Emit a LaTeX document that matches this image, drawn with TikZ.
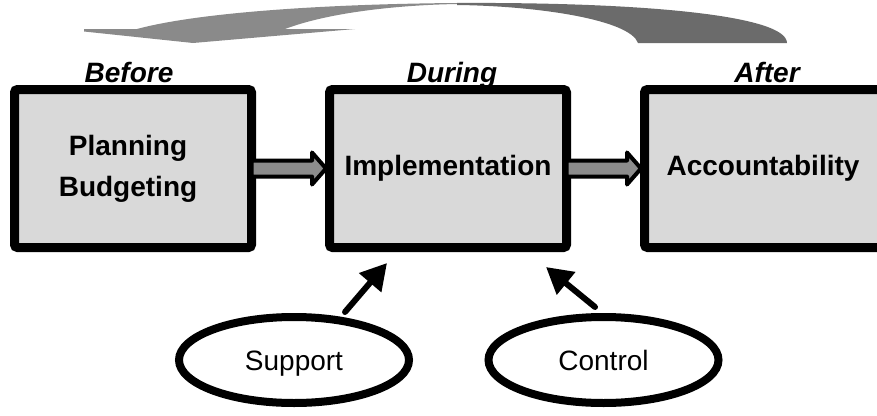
\documentclass[tikz,border=0pt]{standalone}
\usepackage{fontspec}
\setmainfont{Liberation Sans}
\usetikzlibrary{shapes.geometric,arrows.meta,calc}

\definecolor{boxfill}{gray}{0.85}
\definecolor{shaftfill}{RGB}{140,140,140}
\definecolor{ribbonlight}{RGB}{138,138,138}
\definecolor{ribbondark}{RGB}{107,107,107}

\tikzset{
  stagebox/.style={draw=black, line width=9pt, fill=boxfill, rounded corners=3pt,
    minimum width=237pt, minimum height=158pt, inner sep=0pt, outer sep=0pt,
    align=center, font=\fontsize{28}{41}\selectfont\bfseries},
  phase/.style={font=\fontsize{28}{34}\selectfont\bfseries\itshape, inner sep=0pt},
  roleoval/.style={ellipse, draw=black, line width=8pt, fill=white,
    minimum width=230pt, minimum height=86pt, inner sep=0pt, outer sep=0pt,
    text height=21pt, text depth=0pt,
    font=\fontsize{28}{34}\selectfont},
  blockarrow/.style={draw=black, fill=shaftfill, line width=4pt, line join=round},
  pusharrow/.style={draw=black, line width=6pt, line cap=round,
    -{Triangle[length=26pt,width=28pt]}}
}

\begin{document}
\begin{tikzpicture}[x=1pt, y=-1pt]
  \useasboundingbox (0,0) rectangle (877,415);

  % curved return ribbon over the three stages
  \fill[ribbonlight] (84,29) -- (137,29)
    .. controls (200,12) and (330,4) .. (457,3) -- (457,4)
    .. controls (400,5) and (330,12) .. (285,29)
    -- (355,29) -- (193,43) -- (84,31.5) -- cycle;
  \fill[ribbondark] (457,3)
    .. controls (640,2) and (787,15) .. (787,43) -- (638,43)
    .. controls (630,20) and (540,6) .. (457,5) -- cycle;

  % stages
  \node[stagebox] (b1) at (133,168.5) {Planning\hspace*{10pt}\\Budgeting\hspace*{10pt}};
  \node[stagebox] (b2) at (448,168.5) {Implementation};
  \node[stagebox] (b3) at (763,168.5) {Accountability};

  % phase labels
  \node[phase, anchor=base] (lbBefore) at ($(b1.north)+(-4,-7.5)$) {Before};
  \node[phase, anchor=base] (lbDuring) at ($(b2.north)+(4,-7.5)$) {During};
  \node[phase, anchor=base] (lbAfter)  at ($(b3.north)+(4,-7.5)$) {After};

  % block arrows between stages
  \draw[blockarrow] let \p1=(b1.east), \p2=(b2.west) in
    (\x1,\y1+8pt) -- (\x2-17.5pt,\y1+8pt) -- (\x2-17.5pt,\y1+16pt)
    -- (\x2-3.5pt,\y1) -- (\x2-17.5pt,\y1-16pt) -- (\x2-17.5pt,\y1-8pt)
    -- (\x1,\y1-8pt) -- cycle;
  \draw[blockarrow] let \p1=(b2.east), \p2=(b3.west) in
    (\x1,\y1+8pt) -- (\x2-17.5pt,\y1+8pt) -- (\x2-17.5pt,\y1+16pt)
    -- (\x2-3.5pt,\y1) -- (\x2-17.5pt,\y1-16pt) -- (\x2-17.5pt,\y1-8pt)
    -- (\x1,\y1-8pt) -- cycle;

  % support and control
  \node[roleoval] (sup) at (294,360) {Support};
  \node[roleoval] (ctl) at (603.5,360) {Control};

  \coordinate (supFrom) at ($(sup.center)+(51,-48)$);
  \coordinate (supTo)   at ($(b2.south)+(-61,15.5)$);
  \coordinate (ctlFrom) at ($(ctl.center)+(-8.5,-53)$);
  \coordinate (ctlTo)   at ($(b2.south)+(98,19.5)$);
  \draw[pusharrow] (supFrom) -- (supTo);
  \draw[pusharrow] (ctlFrom) -- (ctlTo);
\end{tikzpicture}
\end{document}
